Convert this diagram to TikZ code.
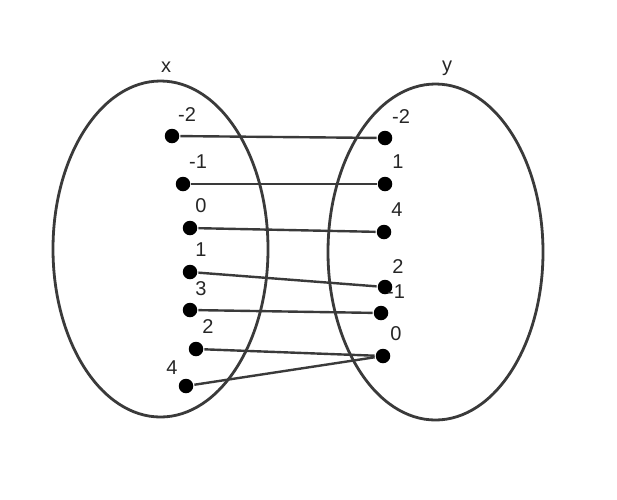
\documentclass[tikz,border=0pt]{standalone}
\usepackage{fontspec}
\setmainfont{Liberation Sans}
\usepackage{xcolor}
\definecolor{inkgray}{HTML}{3A3A3A}
\definecolor{textgray}{HTML}{262626}

\begin{document}
\begin{tikzpicture}[x=1pt,y=-1pt,line width=2.4pt,draw=inkgray,
    dot/.style={circle,fill=black,inner sep=0pt,minimum size=14.5pt},
    val/.style={inner sep=0pt,font=\fontsize{20}{24}\selectfont,text=textgray}]
  \useasboundingbox (0,0) rectangle (617,499);
  \draw[inkgray,line width=2.8pt] (160.5,249) ellipse [x radius=107.5,y radius=168];
  \draw[inkgray,line width=2.8pt] (435.5,252) ellipse [x radius=107.5,y radius=168];
  \node[val] (xname) at (166,67) {x};
  \node[val] (yname) at (447,68) {y};
  % domain
  \node[dot] (a1) at (172,136) {};
  \node[dot] (a2) at (183,184) {};
  \node[dot] (a3) at (190,228) {};
  \node[dot] (a4) at (190,272) {};
  \node[dot] (a5) at (190,310) {};
  \node[dot] (a6) at (196,349) {};
  \node[dot] (a7) at (186,386) {};
  \node[val] (la1) at (187,115) {-2};
  \node[val] (la2) at (198,162) {-1};
  \node[val] (la3) at (201,206) {0};
  \node[val] (la4) at (201,250) {1};
  \node[val] (la5) at (201,289) {3};
  \node[val] (la6) at (208,327) {2};
  \node[val] (la7) at (172,368) {4};
  % range
  \node[dot] (b1) at (385,138) {};
  \node[dot] (b2) at (385,184) {};
  \node[dot] (b3) at (384,232) {};
  \node[dot] (b4) at (385,287) {};
  \node[dot] (b5) at (381,313) {};
  \node[dot] (b6) at (383,356) {};
  \node[val] (lb1) at (401,117) {-2};
  \node[val] (lb2) at (398,162) {1};
  \node[val] (lb3) at (397,210) {4};
  \node[val] (lb4) at (398,267) {2};
  \node[val] (lb5) at (396,292) {-1};
  \node[val] (lb6) at (396,334) {0};
  \draw[inkgray] (a1) -- (b1);
  \draw[inkgray] (a2) -- (b2);
  \draw[inkgray] (a3) -- (b3);
  \draw[inkgray] (a4) -- (b4);
  \draw[inkgray] (a5) -- (b5);
  \draw[inkgray] (a6) -- (b6);
  \draw[inkgray] (a7) -- (b6);
\end{tikzpicture}
\end{document}
